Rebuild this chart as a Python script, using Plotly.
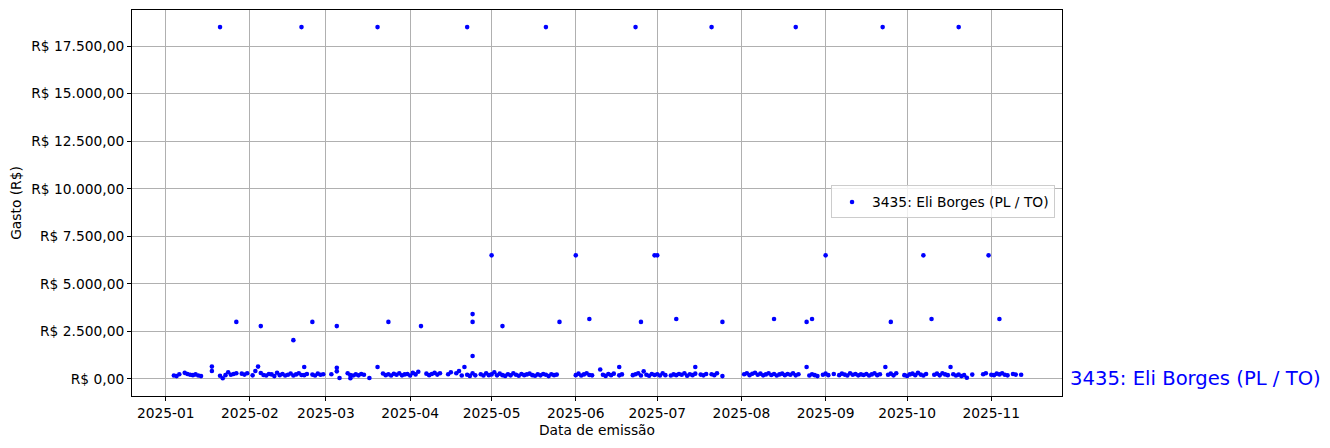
import plotly.graph_objects as go

# ---------------- data ----------------
legenda = "3435: Eli Borges (PL / TO)"

datas_altas = ["2025-01-21", "2025-02-20", "2025-03-20", "2025-04-22", "2025-05-21",
               "2025-06-23", "2025-07-21", "2025-08-21", "2025-09-22", "2025-10-20"]
valores_altos = [18500] * 10

datas_medias = ["2025-05-01", "2025-06-01", "2025-06-30", "2025-07-01", "2025-09-01",
                "2025-10-07", "2025-10-31"]
valores_medios = [6500, 6500, 6500, 6500, 6500, 6500, 6500]

datas_3k = ["2025-01-27", "2025-02-05", "2025-02-17", "2025-02-24", "2025-03-05",
            "2025-03-24", "2025-04-05", "2025-04-24", "2025-04-24", "2025-04-24",
            "2025-05-05", "2025-05-26", "2025-06-06", "2025-06-25", "2025-07-08",
            "2025-07-25", "2025-08-13", "2025-08-25", "2025-08-27", "2025-09-25",
            "2025-10-10", "2025-11-04"]
valores_3k = [3000, 2780, 2040, 3000, 2780,
              3000, 2780, 3410, 3000, 1210,
              2780, 3000, 3150, 3000, 3150,
              3000, 3150, 3000, 3150, 3000,
              3150, 3150]

datas_baixas = [
    "2025-01-04", "2025-01-05", "2025-01-06", "2025-01-08", "2025-01-09", "2025-01-10",
    "2025-01-11", "2025-01-12", "2025-01-13", "2025-01-14", "2025-01-18", "2025-01-18",
    "2025-01-21", "2025-01-22", "2025-01-23", "2025-01-24", "2025-01-25", "2025-01-26",
    "2025-01-27", "2025-01-29", "2025-01-30", "2025-01-31",
    "2025-02-02", "2025-02-03", "2025-02-04", "2025-02-05", "2025-02-06", "2025-02-07",
    "2025-02-08", "2025-02-09", "2025-02-10", "2025-02-11", "2025-02-12", "2025-02-13",
    "2025-02-14", "2025-02-15", "2025-02-16", "2025-02-17", "2025-02-18", "2025-02-19",
    "2025-02-20", "2025-02-21", "2025-02-21", "2025-02-22", "2025-02-24", "2025-02-25",
    "2025-02-26", "2025-02-27", "2025-02-28",
    "2025-03-03", "2025-03-05", "2025-03-05", "2025-03-06", "2025-03-09", "2025-03-10",
    "2025-03-10", "2025-03-11", "2025-03-12", "2025-03-13", "2025-03-14", "2025-03-15",
    "2025-03-17", "2025-03-20", "2025-03-22", "2025-03-23", "2025-03-24", "2025-03-25",
    "2025-03-26", "2025-03-27", "2025-03-28", "2025-03-29", "2025-03-30", "2025-03-31",
    "2025-04-01", "2025-04-02", "2025-04-03", "2025-04-04", "2025-04-07", "2025-04-08",
    "2025-04-09", "2025-04-10", "2025-04-11", "2025-04-12", "2025-04-15", "2025-04-16",
    "2025-04-18", "2025-04-19", "2025-04-20", "2025-04-21", "2025-04-22", "2025-04-23",
    "2025-04-24", "2025-04-25", "2025-04-27", "2025-04-28", "2025-04-29", "2025-04-30",
    "2025-05-01", "2025-05-02", "2025-05-03", "2025-05-04", "2025-05-05", "2025-05-06",
    "2025-05-07", "2025-05-08", "2025-05-09", "2025-05-10", "2025-05-11", "2025-05-12",
    "2025-05-13", "2025-05-14", "2025-05-15", "2025-05-16", "2025-05-17", "2025-05-18",
    "2025-05-19", "2025-05-20", "2025-05-21", "2025-05-22", "2025-05-23", "2025-05-24",
    "2025-05-25",
    "2025-06-01", "2025-06-02", "2025-06-03", "2025-06-04", "2025-06-05", "2025-06-06",
    "2025-06-07", "2025-06-10", "2025-06-11", "2025-06-12", "2025-06-13", "2025-06-14",
    "2025-06-15", "2025-06-17", "2025-06-17", "2025-06-18", "2025-06-22", "2025-06-23",
    "2025-06-24", "2025-06-25", "2025-06-26", "2025-06-27", "2025-06-28", "2025-06-29",
    "2025-06-30",
    "2025-07-01", "2025-07-02", "2025-07-03", "2025-07-04", "2025-07-06", "2025-07-07",
    "2025-07-08", "2025-07-09", "2025-07-10", "2025-07-11", "2025-07-12", "2025-07-13",
    "2025-07-14", "2025-07-15", "2025-07-15", "2025-07-17", "2025-07-18", "2025-07-19",
    "2025-07-21", "2025-07-22", "2025-07-23", "2025-07-25",
    "2025-08-02", "2025-08-03", "2025-08-04", "2025-08-05", "2025-08-06", "2025-08-07",
    "2025-08-08", "2025-08-09", "2025-08-10", "2025-08-11", "2025-08-12", "2025-08-13",
    "2025-08-14", "2025-08-15", "2025-08-16", "2025-08-17", "2025-08-18", "2025-08-19",
    "2025-08-20", "2025-08-21", "2025-08-22", "2025-08-25", "2025-08-26", "2025-08-27",
    "2025-08-28", "2025-08-29", "2025-08-31",
    "2025-09-01", "2025-09-02", "2025-09-04", "2025-09-06", "2025-09-07", "2025-09-08",
    "2025-09-09", "2025-09-10", "2025-09-11", "2025-09-12", "2025-09-13", "2025-09-14",
    "2025-09-15", "2025-09-16", "2025-09-17", "2025-09-18", "2025-09-19", "2025-09-20",
    "2025-09-21", "2025-09-23", "2025-09-24", "2025-09-25", "2025-09-26", "2025-09-27",
    "2025-09-30",
    "2025-10-01", "2025-10-02", "2025-10-03", "2025-10-04", "2025-10-05", "2025-10-06",
    "2025-10-07", "2025-10-08", "2025-10-11", "2025-10-12", "2025-10-13", "2025-10-14",
    "2025-10-15", "2025-10-16", "2025-10-17", "2025-10-18", "2025-10-19", "2025-10-20",
    "2025-10-21", "2025-10-22", "2025-10-23", "2025-10-25", "2025-10-29", "2025-10-30",
    "2025-11-01", "2025-11-02", "2025-11-03", "2025-11-04", "2025-11-05", "2025-11-06",
    "2025-11-07", "2025-11-09", "2025-11-10", "2025-11-12",
]
valores_baixos = [
    180, 150, 250, 320, 260, 220,
    200, 240, 180, 150, 420, 650,
    170, 40, 200, 350, 220, 260,
    300, 280, 230, 300,
    190, 420, 650, 310, 210, 180,
    260, 240, 150, 330, 200, 260,
    180, 220, 290, 180, 240, 300,
    210, 630, 200, 260, 230, 180,
    280, 220, 250,
    250, 590, 400, 50, 300, 200,
    40, 180, 240, 190, 260, 220,
    50, 630, 290, 200, 250, 180,
    270, 220, 300, 190, 240, 260,
    180, 320, 240, 380, 280, 200,
    260, 320, 230, 300, 250, 350,
    300, 420, 180, 630, 220, 160,
    300, 190, 250, 180, 300, 200,
    240, 350, 190, 280, 200, 160,
    250, 190, 300, 220, 170, 260,
    200, 240, 280, 200, 170, 240,
    190, 260, 220, 150, 250, 200,
    230,
    200, 280, 180, 240, 300, 210,
    190, 500, 220, 160, 260, 200,
    280, 630, 190, 240, 200, 250,
    300, 180, 400, 220, 170, 260,
    210,
    250, 180, 300, 200, 180, 240,
    200, 260, 220, 300, 170, 250,
    200, 280, 630, 230, 190, 260,
    250, 200, 300, 150,
    250, 300, 200, 270, 330, 220,
    280, 190, 240, 300, 210, 260,
    180, 240, 280, 200, 260, 220,
    300, 190, 250, 630, 180, 250,
    200, 150, 220,
    280, 200, 260, 200, 280, 230,
    180, 300, 220, 260, 190, 240,
    210, 260, 180, 240, 300, 200,
    250, 630, 220, 280, 190, 300,
    200,
    160, 240, 280, 200, 320, 230,
    180, 260, 220, 280, 190, 300,
    240, 200, 630, 250, 180, 230,
    150, 200, 60, 230, 250, 300,
    220, 200, 280, 240, 300, 220,
    190, 260, 230, 220,
]

tick_y_vals = [0, 2500, 5000, 7500, 10000, 12500, 15000, 17500]
tick_y_text = ["R$ 0,00", "R$ 2.500,00", "R$ 5.000,00", "R$ 7.500,00", "R$ 10.000,00",
               "R$ 12.500,00", "R$ 15.000,00", "R$ 17.500,00"]

x_all = datas_baixas + datas_3k + datas_medias + datas_altas
y_all = valores_baixos + valores_3k + valores_medios + valores_altos

# ---------------- figure ----------------
font_family = "DejaVu Sans"
fs = 13.8
fig = go.Figure()
fig.add_trace(go.Scatter(
    x=x_all, y=y_all, mode="markers", name=legenda,
    marker=dict(color="#0000ff", size=4.6, line=dict(width=0)),
))

axis_common = dict(
    showline=True, linecolor="black", linewidth=1, mirror=True,
    showgrid=True, gridcolor="#b0b0b0", gridwidth=0.8,
    ticks="outside", ticklen=4, tickcolor="black", tickwidth=1,
    zeroline=False, tickfont=dict(family=font_family, size=fs, color="black"),
)

fig.update_layout(
    width=1330, height=448,
    margin=dict(l=124, r=276, t=2, b=60),
    paper_bgcolor="white", plot_bgcolor="white",
    font=dict(family=font_family, size=fs, color="black"),
    showlegend=True,
    legend=dict(
        x=0.9925, y=0.5026, xanchor="right", yanchor="middle",
        bgcolor="rgba(255,255,255,0.8)", bordercolor="#cccccc", borderwidth=1,
        font=dict(family=font_family, size=fs, color="black"),
        itemsizing="trace",
    ),
    xaxis=dict(
        axis_common,
        type="date",
        range=["2024-12-19 14:00", "2025-11-27 01:00"],
        tick0="2025-01-01", dtick="M1", tickformat="%Y-%m",
        title=dict(text="Data de emissão", font=dict(family=font_family, size=fs), standoff=5),
    ),
    yaxis=dict(
        axis_common,
        range=[-896, 19398],
        tickvals=tick_y_vals, ticktext=tick_y_text,
        title=dict(text="Gasto (R$)", font=dict(family=font_family, size=fs), standoff=13),
    ),
    annotations=[dict(
        x=1.0065, xref="paper", y=0, yref="y",
        text=legenda, showarrow=False, xanchor="left", yanchor="middle",
        font=dict(family=font_family, size=19.6, color="#0000ff"),
    )],
)

fig.write_html("out.html")
